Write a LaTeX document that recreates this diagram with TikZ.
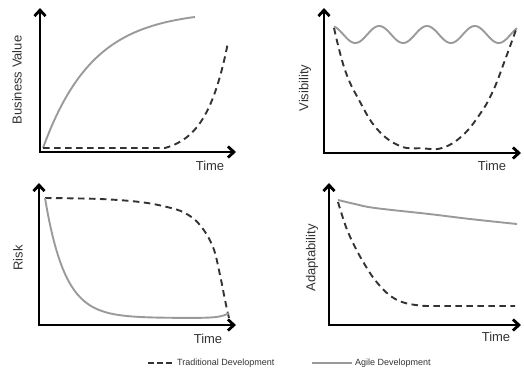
\documentclass[tikz,border=0pt]{standalone}
\usepackage{fontspec}
\setmainfont{Liberation Sans}
\usetikzlibrary{arrows.meta}
\definecolor{agile}{HTML}{9A9A9A}
\definecolor{trad}{HTML}{333333}
\definecolor{txt}{HTML}{333333}
\begin{document}
\begin{tikzpicture}[x=1pt,y=-1pt,
  axis/.style={line width=2.8pt,black,{Straight Barb[length=6pt,width=11pt]}-{Straight Barb[length=6pt,width=11pt]}},
  agilecurve/.style={line width=1.9pt,agile,line join=round},
  tradcurve/.style={line width=1.9pt,trad,dash pattern=on 6.5pt off 4.5pt,line join=round},
  axlabel/.style={font=\fontsize{13}{15}\selectfont,text=txt,inner sep=0pt},
  leglabel/.style={font=\fontsize{9}{11}\selectfont,text=txt,inner sep=0pt,anchor=west}]
\useasboundingbox (0,0) rectangle (524,373);

% ---------- top-left: Business Value ----------
\coordinate (o1) at (40,152);
\coordinate (y1) at (40,8);
\coordinate (x1) at (236,152);
\draw[axis] (y1) -- (o1) -- (x1);
\node[axlabel,rotate=90] (bv) at (17,80) {Business Value};
\node[axlabel] (t1) at (210,166) {Time};
\draw[agilecurve] plot[domain=43:195,samples=70,smooth] (\x,{148-137.6*(1-exp(-(\x-43)/50))});
\draw[tradcurve] (43,148) -- (165,148) -- plot[domain=165:228,samples=40,smooth] (\x,{148-6.4*(exp((\x-165)/22)-1)});

% ---------- top-right: Visibility ----------
\coordinate (o2) at (324,153);
\coordinate (y2) at (324,8);
\coordinate (x2) at (521,153);
\draw[axis] (y2) -- (o2) -- (x2);
\node[axlabel,rotate=90] (vis) at (305,88) {Visibility};
\node[axlabel] (t2) at (492,166) {Time};
\draw[agilecurve] plot[domain=334:517,samples=120,smooth] (\x,{34.5+8.5*cos((\x-355.3)*7.5314)});
\draw[tradcurve] plot[smooth,tension=0.7] coordinates {(334,28) (345,70) (359,100) (377,129) (400,146) (422,148.3) (442,148) (462,136) (480,114) (493,91) (505,60) (517,27)};

% ---------- bottom-left: Risk ----------
\coordinate (o3) at (39,325);
\coordinate (y3) at (39,183);
\coordinate (x3) at (236,325);
\draw[axis] (y3) -- (o3) -- (x3);
\node[axlabel,rotate=90] (risk) at (18,258) {Risk};
\node[axlabel] (t3) at (208,339) {Time};
\draw[tradcurve] plot[smooth,tension=0.6] coordinates {(45,198) (100,199) (140,202) (167,207) (185,213) (200,225) (213,247) (220,275) (225,300) (229,318)};
\draw[agilecurve] plot[domain=45:229,samples=90,smooth] (\x,{318-120*exp(-(\x-45)/20)-5*exp((\x-229)/8)});

% ---------- bottom-right: Adaptability ----------
\coordinate (o4) at (329,325);
\coordinate (y4) at (329,183);
\coordinate (x4) at (521,325);
\draw[axis] (y4) -- (o4) -- (x4);
\node[axlabel,rotate=90] (ad) at (312,258) {Adaptability};
\node[axlabel] (t4) at (496,337) {Time};
\draw[agilecurve] plot[smooth,tension=0.6] coordinates {(338,200) (355,204) (375,208) (429,214) (470,219) (517,224)};
\draw[tradcurve] plot[smooth,tension=0.6] coordinates {(338,202) (346,227) (355,247) (365,265) (375,280) (388,294) (402,302) (420,305.5) (440,306) (515,306)};

% ---------- legend ----------
\coordinate (la) at (148,363);
\coordinate (lb) at (174,363);
\draw[tradcurve,line width=1.4pt,dash pattern=on 5.5pt off 3.5pt] (la) -- (lb);
\node[leglabel] (ltrad) at (177,363) {Traditional Development};
\coordinate (lc) at (312,363);
\coordinate (ld) at (352,363);
\draw[agilecurve,line width=1.4pt] (lc) -- (ld);
\node[leglabel] (lagile) at (355,363) {Agile Development};
\end{tikzpicture}
\end{document}
